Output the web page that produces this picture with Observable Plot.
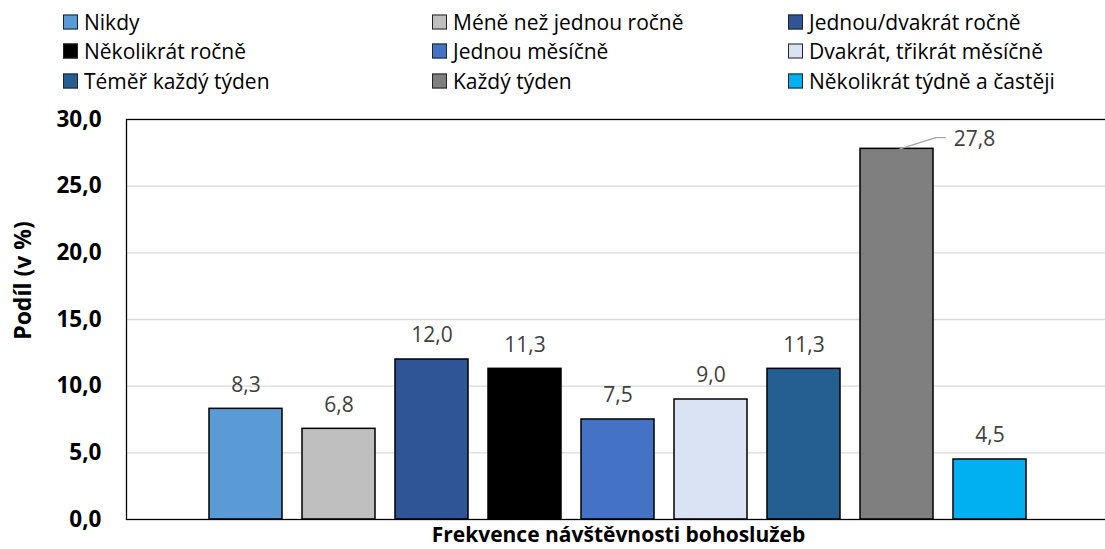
<!DOCTYPE html>
<html>
<head>
<meta charset="utf-8">
<script src="https://cdn.jsdelivr.net/npm/d3@7"></script>
<script src="https://cdn.jsdelivr.net/npm/@observablehq/plot@0.6"></script>
<style>
  html, body { margin: 0; padding: 0; background: #fff; overflow: hidden; }
  body { width: 1105px; height: 549px; position: relative; font-family: "Open Sans", sans-serif; }
  #legend { position: relative; height: 100px; width: 1105px; }
  .li { position: absolute; display: flex; align-items: center; font-size: 21px; line-height: 1; color: #000; white-space: nowrap; transform: translateY(-50%); }
  .sw { width: 13px; height: 13px; border: 1px solid #222; margin-right: 6px; box-sizing: content-box; }
  #chart svg { display: block; }
</style>
</head>
<body>
<div id="legend"></div>
<div id="chart"></div>
<script>
const categories = [
  "Nikdy",
  "Méně než jednou ročně",
  "Jednou/dvakrát ročně",
  "Několikrát ročně",
  "Jednou měsíčně",
  "Dvakrát, třikrát měsíčně",
  "Téměř každý týden",
  "Každý týden",
  "Několikrát týdně a častěji"
];
const values = [8.3, 6.8, 12.0, 11.3, 7.5, 9.0, 11.3, 27.8, 4.5];
const colors = ["#5B9BD5", "#BFBFBF", "#2F5597", "#000000", "#4472C4", "#DAE3F3", "#255E91", "#7F7F7F", "#00B0F0"];
const yTicks = [0, 5, 10, 15, 20, 25, 30];
const yLabel = "Podíl (v %)";
const xLabel = "Frekvence návštěvnosti bohoslužeb";

const data = categories.map((c, i) => ({cat: c, value: values[i], color: colors[i]}));
const fmt = v => v.toFixed(1).replace(".", ",");

// Legend (3 columns x 3 rows)
const colX = [63, 432, 788];
const rowY = [21.5, 51, 80.5];
const legend = document.getElementById("legend");
categories.forEach((c, i) => {
  const el = document.createElement("div");
  el.className = "li";
  el.style.left = colX[i % 3] + "px";
  el.style.top = rowY[Math.floor(i / 3)] + "px";
  const sw = document.createElement("span");
  sw.className = "sw";
  sw.style.background = colors[i];
  el.appendChild(sw);
  el.appendChild(document.createTextNode(c));
  legend.appendChild(el);
});

const maxItem = data.reduce((a, b) => (b.value > a.value ? b : a));
const others = data.filter(d => d !== maxItem);

const lineShape = { draw(context, l) { context.moveTo(0, 0); context.lineTo(0, -l); } };

const chart = Plot.plot({
  width: 1105,
  height: 449,
  marginLeft: 126,
  marginRight: -5,
  marginTop: 19,
  marginBottom: 30,
  style: { fontFamily: "Open Sans, sans-serif", background: "transparent", overflow: "hidden" },
  x: { domain: categories, paddingInner: 0.21, paddingOuter: 0.867, axis: null },
  y: { domain: [0, 30], axis: null },
  marks: [
    Plot.ruleY([5, 10, 15, 20, 25], { stroke: "#d9d9d9", strokeWidth: 1.3 }),
    Plot.barY(data, { x: "cat", y: "value", fill: "color", stroke: "#000", strokeWidth: 1.5 }),
    Plot.frame({ stroke: "#000", strokeWidth: 1.3 }),
    Plot.axisY({
      ticks: yTicks, tickSize: 0, tickPadding: 25, tickFormat: fmt,
      fontSize: 22.5, fontWeight: "bold", fill: "#000", label: null
    }),
    Plot.text(others, {
      x: "cat", y: "value", text: d => fmt(d.value), dy: -24,
      fill: "#404040", fontSize: 21
    }),
    Plot.text([maxItem], {
      x: "cat", y: "value", text: d => fmt(d.value), dx: 77.5, dy: -10,
      fill: "#404040", fontSize: 21
    }),
    Plot.vector([maxItem], {
      x: "cat", y: "value", dx: 3, length: 37.5, rotate: 72.5, anchor: "start",
      shape: lineShape, stroke: "#a6a6a6", strokeWidth: 1.3
    }),
    Plot.vector([maxItem], {
      x: "cat", y: "value", dx: 38.5, dy: -11.3, length: 10, rotate: 90, anchor: "start",
      shape: lineShape, stroke: "#a6a6a6", strokeWidth: 1.3
    }),
    Plot.text([yLabel], {
      frameAnchor: "left", text: d => d, rotate: -90, dx: -103, dy: -39,
      textAnchor: "middle", lineAnchor: "middle",
      fontSize: 23, fontWeight: "bold", fill: "#000"
    }),
    Plot.text([xLabel], {
      frameAnchor: "bottom", text: d => d, dy: 15.5,
      textAnchor: "middle", lineAnchor: "middle",
      fontSize: 21, fontWeight: "bold", fill: "#000"
    })
  ]
});
document.getElementById("chart").appendChild(chart);
</script>
</body>
</html>
